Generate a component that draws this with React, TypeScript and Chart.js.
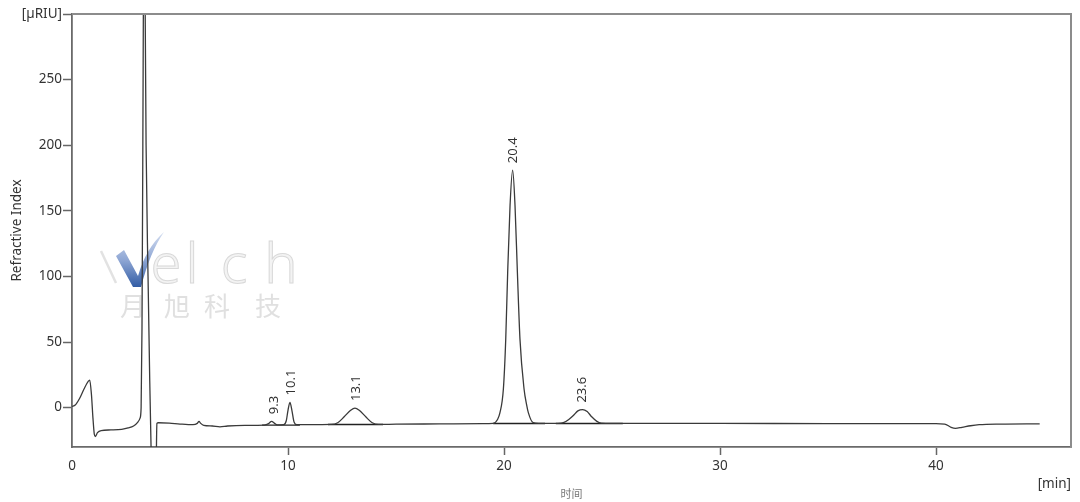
import React, { useEffect, useRef } from "react";
import { Chart, registerables } from "chart.js";

Chart.register(...registerables);

// ---- data ----
const TIME_MIN = [
  0.0, 0.15, 0.35, 0.55, 0.75, 0.82, 0.9, 0.97, 1.03, 1.08, 1.18, 1.35, 1.8, 2.3, 2.6, 2.85, 3.05, 3.15,
  3.2, 3.24, 3.28, 3.31, 3.34, 3.37, 3.43, 3.52, 3.6, 3.66, 3.7, 3.78, 3.86, 3.9, 3.93,
  4.0, 4.5, 5.0, 5.6, 5.8, 5.88, 5.96, 6.1, 6.5, 6.85, 7.2, 8.0, 8.9, 9.1, 9.24, 9.38, 9.5,
  9.8, 9.92, 10.0, 10.09, 10.18, 10.28, 10.4, 11.0, 12.0, 12.3, 12.6, 12.9, 13.1, 13.3, 13.6, 13.9, 14.2,
  15.0, 17.0, 19.0, 19.5, 19.7, 19.81, 19.97, 20.08, 20.17, 20.28, 20.4, 20.51, 20.62, 20.74, 20.93,
  21.05, 21.13, 21.35, 21.6, 22.5, 22.75, 23.0, 23.21, 23.42, 23.64, 23.85, 24.06, 24.3, 24.5, 25.0,
  30.0, 35.0, 40.0, 40.4, 40.7, 40.9, 41.2, 41.6, 42.0, 43.0, 44.8,
];
const SIGNAL_URIU = [
  1, 2, 7, 14, 20, 21, 10, -8, -20, -22, -19, -17.5, -17, -16.5, -15.5, -14, -11, -8,
  0, 60, 200, 330, 420, 350, 200, 100, 20, -30, -60, -70, -60, -40, -12,
  -11.5, -11.8, -12.5, -13, -12, -10.5, -12, -13.5, -14, -14.6, -14, -13.5, -13.3, -12.2, -10.4, -12, -13.2,
  -13, -10, -2, 4, -2, -11, -13, -13, -12.8, -11.5, -7, -2, -0.3, -2, -7, -11.5, -12.8,
  -12.6, -12.4, -12.2, -12, -9, -4, 14, 52, 103, 154, 181, 154, 103, 52, 14,
  2, -4, -11.5, -12, -12, -11.5, -9, -6, -2.5, -1.5, -3, -7, -10.5, -11.8, -12,
  -12, -12.2, -12.2, -12.5, -15, -15.8, -15, -13.8, -13, -12.5, -12.3,
];

const X_TICKS = [0, 10, 20, 30, 40];
const Y_TICKS = [0, 50, 100, 150, 200, 250, 300];
const Y_TOP_LABEL = "[µRIU]";
const X_UNIT_LABEL = "[min]";

const PEAK_TIMES = [9.3, 10.1, 13.1, 20.4, 23.6];
const PEAK_LABELS = ["9.3", "10.1", "13.1", "20.4", "23.6"];
const PEAK_APEX = [-10.4, 4, -0.3, 181, -1.5];

const BASELINE_START = [8.8, 11.85, 19.5, 22.4];
const BASELINE_END = [10.55, 14.4, 21.9, 25.5];
const BASELINE_LEVEL = [-13.3, -12.9, -12.1, -12.1];

const FONT = '"Noto Sans", "Open Sans", sans-serif';

const watermarkPlugin = {
  id: "watermark",
  beforeDatasetsDraw(chart: any) {
    const ctx = chart.ctx;
    ctx.save();
    // gray left stroke of the W
    ctx.strokeStyle = "#e2e2e2";
    ctx.lineWidth = 2.5;
    ctx.beginPath();
    ctx.moveTo(101, 251);
    ctx.lineTo(116, 283);
    ctx.stroke();
    // blue V
    const g = ctx.createLinearGradient(0, 232, 0, 288);
    g.addColorStop(0, "#d3ddf0");
    g.addColorStop(0.5, "#8ea6d4");
    g.addColorStop(1, "#2f5aa3");
    ctx.fillStyle = g;
    ctx.beginPath();
    ctx.moveTo(116, 256);
    ctx.lineTo(124, 250);
    ctx.lineTo(138, 276);
    ctx.quadraticCurveTo(146, 248, 164, 232);
    ctx.quadraticCurveTo(150, 252, 141, 287);
    ctx.lineTo(133, 287);
    ctx.closePath();
    ctx.fill();
    // "elch"
    ctx.font = `300 56px ${FONT}`;
    ctx.textAlign = "center";
    ctx.textBaseline = "alphabetic";
    ctx.fillStyle = "#f3f3f3";
    ctx.strokeStyle = "#d9d9d9";
    ctx.lineWidth = 1;
    const letters: [string, number][] = [["e", 166], ["l", 192], ["c", 234], ["h", 281]];
    letters.forEach(([c, x]) => {
      ctx.fillText(c, x, 283);
      ctx.strokeText(c, x, 283);
    });
    // Chinese company name
    ctx.font = '26px "Noto Sans CJK SC", sans-serif';
    ctx.textBaseline = "middle";
    ctx.fillStyle = "#e0e0e0";
    const chars: [string, number][] = [["月", 133], ["旭", 177], ["科", 217], ["技", 268]];
    chars.forEach(([c, x]) => ctx.fillText(c, x, 306));
    ctx.restore();
  },
};

const peakLabelPlugin = {
  id: "peakLabels",
  afterDatasetsDraw(chart: any) {
    const { ctx, scales } = chart;
    const xs = scales.x;
    const ys = scales.y;
    ctx.save();
    ctx.font = `13px ${FONT}`;
    ctx.fillStyle = "#333";
    ctx.textAlign = "left";
    ctx.textBaseline = "middle";
    PEAK_TIMES.forEach((t, i) => {
      const px = xs.getPixelForValue(t) + 1;
      const py = ys.getPixelForValue(PEAK_APEX[i]) - 7;
      ctx.save();
      ctx.translate(px, py);
      ctx.rotate(-Math.PI / 2);
      ctx.fillText(PEAK_LABELS[i], 0, 0);
      ctx.restore();
    });
    ctx.restore();
  },
};

const framePlugin = {
  id: "frame",
  afterDraw(chart: any) {
    const { ctx, chartArea } = chart;
    ctx.save();
    ctx.strokeStyle = "#8c8c8c";
    ctx.lineWidth = 2;
    ctx.beginPath();
    ctx.moveTo(chartArea.left, chartArea.top);
    ctx.lineTo(chartArea.right, chartArea.top);
    ctx.lineTo(chartArea.right, chartArea.bottom);
    ctx.stroke();
    ctx.font = `13.5px ${FONT}`;
    ctx.fillStyle = "#333";
    ctx.textAlign = "right";
    ctx.textBaseline = "middle";
    ctx.fillText(X_UNIT_LABEL, chartArea.right, 484);
    ctx.restore();
  },
};

export default function App() {
  const ref = useRef<HTMLCanvasElement | null>(null);

  useEffect(() => {
    if (!ref.current) return;
    const traceData = TIME_MIN.map((t, i) => ({ x: t, y: SIGNAL_URIU[i] }));
    const baselineSets = BASELINE_START.map((s, i) => ({
      data: [
        { x: s, y: BASELINE_LEVEL[i] },
        { x: BASELINE_END[i], y: BASELINE_LEVEL[i] },
      ],
      borderColor: "#222",
      borderWidth: 1.4,
      pointRadius: 0,
      fill: false,
    }));
    const chart = new Chart(ref.current, {
      type: "line",
      data: {
        datasets: [
          {
            data: traceData,
            borderColor: "#3a3a3a",
            borderWidth: 1.3,
            pointRadius: 0,
            fill: false,
            cubicInterpolationMode: "monotone",
          },
          ...baselineSets,
        ],
      },
      options: {
        animation: false,
        responsive: false,
        devicePixelRatio: 1,
        layout: { padding: { top: 14, right: 9, left: 0, bottom: 0 } },
        plugins: { legend: { display: false }, tooltip: { enabled: false } },
        scales: {
          x: {
            type: "linear",
            min: 0,
            max: 46.25,
            afterBuildTicks: (scale: any) => {
              scale.ticks = X_TICKS.map((v) => ({ value: v }));
            },
            afterFit: (scale: any) => {
              scale.height = 55;
            },
            ticks: {
              font: { family: FONT, size: 13.5 },
              color: "#333",
              padding: 3,
              maxRotation: 0,
              autoSkip: false,
            },
            grid: {
              drawOnChartArea: false,
              drawTicks: true,
              tickLength: 8,
              tickWidth: 1.5,
              tickColor: (ctx: any) => (ctx.tick && ctx.tick.value === 0 ? "rgba(0,0,0,0)" : "#666"),
            },
            border: { display: true, color: "#6a6a6a", width: 1.8 },
            title: {
              display: true,
              text: "时间",
              color: "#777",
              font: { family: '"Noto Sans CJK SC", sans-serif', size: 11 },
              padding: { top: 0, bottom: 2 },
            },
          },
          y: {
            type: "linear",
            min: -30,
            max: 300,
            afterBuildTicks: (scale: any) => {
              scale.ticks = Y_TICKS.map((v) => ({ value: v }));
            },
            afterFit: (scale: any) => {
              scale.width = 72;
            },
            ticks: {
              font: { family: FONT, size: 13.5 },
              color: "#333",
              padding: 1,
              callback: (v: any) => (v === 300 ? Y_TOP_LABEL : String(v)),
            },
            grid: {
              drawOnChartArea: false,
              drawTicks: true,
              tickLength: 9,
              tickWidth: 1.5,
              tickColor: "#666",
            },
            border: { display: true, color: "#6a6a6a", width: 1.8 },
            title: {
              display: true,
              text: "Refractive Index",
              color: "#333",
              font: { family: FONT, size: 13.5 },
              padding: { top: 9, bottom: 0 },
            },
          },
        },
      },
      plugins: [watermarkPlugin, peakLabelPlugin, framePlugin],
    } as any);
    return () => chart.destroy();
  }, []);

  return (
    <div style={{ position: "absolute", left: 0, top: 0, width: 1080, height: 502, background: "#fff" }}>
      <canvas ref={ref} width={1080} height={502} style={{ width: 1080, height: 502, display: "block" }} />
    </div>
  );
}
